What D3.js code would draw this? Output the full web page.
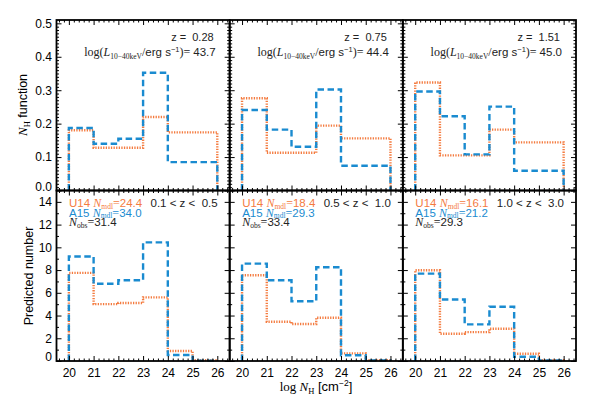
<!DOCTYPE html>
<html><head><meta charset="utf-8">
<script src="https://cdn.jsdelivr.net/npm/d3@7"></script>
<style>body{margin:0;background:#fff}svg{display:block}</style>
</head><body>
<script>
// ---- data ----
const edgesTop = [20, 21, 22, 23, 24, 26];
const edgesBot = [20, 21, 22, 23, 24, 25, 26];
const topU14 = [[0.180, 0.128, 0.128, 0.220, 0.174], [0.276, 0.113, 0.113, 0.194, 0.156], [0.323, 0.105, 0.105, 0.182, 0.144]];
const topA15 = [[0.187, 0.140, 0.155, 0.352, 0.085], [0.241, 0.182, 0.131, 0.302, 0.074], [0.296, 0.222, 0.108, 0.251, 0.059]];
const botU14 = [[7.75, 5.0, 5.1, 5.6, 0.88, 0.08], [7.54, 3.45, 3.25, 3.8, 0.67, 0.08], [7.98, 2.4, 2.54, 2.84, 0.64, 0.08]];
const botA15 = [[9.2, 6.8, 7.1, 10.44, 0.53, 0.03], [8.57, 7.1, 5.26, 8.25, 0.5, 0.05], [7.69, 5.41, 3.22, 4.77, 0.38, 0.04]];
const zLabels = ["0.28", "0.75", "1.51"];
const logL = ["43.7", "44.4", "45.0"];
const zRanges = ["0.1 < z <  0.5", "0.5 < z <  1.0", "1.0 < z <  3.0"];
const nU14 = ["24.4", "18.4", "16.1"];
const nA15 = ["34.0", "29.3", "21.2"];
const nObs = ["31.4", "33.4", "29.3"];
const xTicks = [20, 21, 22, 23, 24, 25, 26];
const yTopTicks = [0, 0.1, 0.2, 0.3, 0.4, 0.5];
const yBotTicks = [0, 2, 4, 6, 8, 10, 12, 14];

// ---- layout ----
const W = 598, H = 398;
const L = 56.5, R = 576, T = 20, M = 190.5, B = 361;
const pw = (R - L) / 3;
const ORANGE = "#f47b3f", BLUE = "#1a8bd0";
const SANS = "'Liberation Sans', Arial, sans-serif";
const SERIF = "'Liberation Serif', 'DejaVu Serif', serif";

const svg = d3.select("body").append("svg").attr("width", W).attr("height", H)
  .style("font-family", SANS);

const yTop = d3.scaleLinear([0, 0.51], [M, T]);
const yBot = d3.scaleLinear([0, 15], [B, M]);

function stepPoints(edges, vals) {
  const pts = [[edges[0], 0]];
  vals.forEach((v, i) => { pts.push([edges[i], v]); pts.push([edges[i + 1], v]); });
  pts.push([edges[edges.length - 1], 0]);
  return pts;
}

function axes(g, x, y, yt, yMinor, showX, showY, y0, y1, x0, x1) {
  const xMinor = d3.range(19.6, 26.5, 0.2).filter(v => Math.abs(v - Math.round(v)) > 1e-6);
  const style = sel => { sel.select(".domain").remove(); sel.selectAll("line").attr("stroke", "#000").attr("stroke-width", 1); };
  const gb = g.append("g").attr("transform", `translate(0,${y0})`)
    .call(d3.axisBottom(x).tickValues(xTicks).tickSize(-5).tickPadding(7.5).tickFormat(showX ? d3.format("d") : () => "")).call(style);
  gb.selectAll("text").attr("font-size", 12).attr("font-family", SANS).attr("fill", "#000");
  g.append("g").attr("transform", `translate(0,${y0})`).call(d3.axisBottom(x).tickValues(xMinor).tickSize(-2.5).tickFormat(() => "")).call(style);
  g.append("g").attr("transform", `translate(0,${y1})`).call(d3.axisTop(x).tickValues(xTicks).tickSize(-5).tickFormat(() => "")).call(style);
  g.append("g").attr("transform", `translate(0,${y1})`).call(d3.axisTop(x).tickValues(xMinor).tickSize(-2.5).tickFormat(() => "")).call(style);
  const gl = g.append("g").attr("transform", `translate(${x0},0)`)
    .call(d3.axisLeft(y).tickValues(yt).tickSize(-5).tickPadding(4.5).tickFormat(showY ? (yt[1] < 1 ? d3.format(".1f") : d3.format("d")) : () => "")).call(style);
  gl.selectAll("text").attr("font-size", 12).attr("font-family", SANS).attr("fill", "#000");
  gl.selectAll(".tick").filter(d => d === 0).select("text").attr("y", -4);
  g.append("g").attr("transform", `translate(${x0},0)`).call(d3.axisLeft(y).tickValues(yMinor).tickSize(-2.5).tickFormat(() => "")).call(style);
  g.append("g").attr("transform", `translate(${x1},0)`).call(d3.axisRight(y).tickValues(yt).tickSize(-5).tickFormat(() => "")).call(style);
  g.append("g").attr("transform", `translate(${x1},0)`).call(d3.axisRight(y).tickValues(yMinor).tickSize(-2.5).tickFormat(() => "")).call(style);
}

const yTopMinor = d3.range(0.01, 0.51, 0.01).filter(v => Math.abs(v * 10 - Math.round(v * 10)) > 1e-6);
const yBotMinor = d3.range(1, 15, 2);

function subLine(g, x, y, color, prefix, sub, value) {
  const t = g.append("text").attr("x", x).attr("y", y).attr("font-size", 11.5).attr("fill", color);
  if (prefix) t.append("tspan").text(prefix);
  t.append("tspan").text("N").attr("font-family", SERIF).attr("font-style", "italic").attr("font-size", 12);
  t.append("tspan").text(sub).attr("font-family", SERIF).attr("font-size", 7.5).attr("dy", 1.5);
  t.append("tspan").text("=").attr("font-family", SERIF).attr("font-size", 12).attr("dy", -1.5);
  t.append("tspan").text(value);
}

for (let i = 0; i < 3; i++) {
  const x0 = L + i * pw, x1 = L + (i + 1) * pw;
  const x = d3.scaleLinear([19.5, 26.5], [x0, x1]);
  const g = svg.append("g");

  const lineT = d3.line().x(d => x(d[0])).y(d => yTop(d[1]));
  g.append("path").attr("d", lineT(stepPoints(edgesTop, topU14[i]))).attr("fill", "none")
    .attr("stroke", ORANGE).attr("stroke-width", 2.4).attr("stroke-dasharray", "1.3,1.3");
  g.append("path").attr("d", lineT(stepPoints(edgesTop, topA15[i]))).attr("fill", "none")
    .attr("stroke", BLUE).attr("stroke-width", 2.4).attr("stroke-dasharray", "6.5,3.5");

  const lineB = d3.line().x(d => x(d[0])).y(d => yBot(d[1]));
  g.append("path").attr("d", lineB(stepPoints(edgesBot, botU14[i]))).attr("fill", "none")
    .attr("stroke", ORANGE).attr("stroke-width", 2.4).attr("stroke-dasharray", "1.3,1.3");
  g.append("path").attr("d", lineB(stepPoints(edgesBot, botA15[i]))).attr("fill", "none")
    .attr("stroke", BLUE).attr("stroke-width", 2.4).attr("stroke-dasharray", "6.5,3.5");

  axes(g.append("g"), x, yTop, yTopTicks, yTopMinor, false, i === 0, M, T, x0, x1);
  axes(g.append("g"), x, yBot, yBotTicks, yBotMinor, true, i === 0, B, M, x0, x1);

  g.append("rect").attr("x", x0).attr("y", T).attr("width", pw).attr("height", M - T)
    .attr("fill", "none").attr("stroke", "#000").attr("stroke-width", 1.8);
  g.append("rect").attr("x", x0).attr("y", M).attr("width", pw).attr("height", B - M)
    .attr("fill", "none").attr("stroke", "#000").attr("stroke-width", 1.8);

  // top annotations
  g.append("text").attr("x", x1 - 16).attr("y", 40.5).attr("text-anchor", "end")
    .attr("font-size", 11).attr("fill", "#222").style("white-space", "pre").text("z =  " + zLabels[i]);
  const tl = g.append("text").attr("x", x1 - 14).attr("y", 56).attr("text-anchor", "end")
    .attr("font-size", 11.5).attr("fill", "#222");
  tl.append("tspan").text("log(").attr("font-family", SERIF).attr("font-size", 12);
  tl.append("tspan").text("L").attr("font-family", SERIF).attr("font-style", "italic").attr("font-size", 12);
  tl.append("tspan").text("10−40keV").attr("font-family", SERIF).attr("font-size", 7.5).attr("dy", 2.5);
  tl.append("tspan").text("/").attr("font-family", SERIF).attr("font-size", 12).attr("dy", -2.5);
  tl.append("tspan").text("erg s");
  tl.append("tspan").text("−1").attr("font-size", 7.5).attr("dy", -4);
  tl.append("tspan").text(")").attr("font-family", SERIF).attr("font-size", 12).attr("dy", 4);
  tl.append("tspan").text("= ").attr("font-family", SERIF).attr("font-size", 12);
  tl.append("tspan").text(logL[i]);

  // bottom annotations
  const bx = x0 + 12.5;
  subLine(g, bx, 207, ORANGE, "U14 ", "mdl", nU14[i]);
  subLine(g, bx, 216.5, BLUE, "A15 ", "mdl", nA15[i]);
  subLine(g, bx, 226, "#222", "", "obs", nObs[i]);
  g.append("text").attr("x", x1 - 12).attr("y", 207).attr("text-anchor", "end")
    .attr("font-size", 11.5).attr("fill", "#222").style("white-space", "pre").text(zRanges[i]);
}

// axis titles
const xt = svg.append("text").attr("x", 316).attr("y", 391).attr("text-anchor", "middle").attr("font-size", 13).attr("fill", "#000");
xt.append("tspan").text("log ").attr("font-family", SERIF);
xt.append("tspan").text("N").attr("font-family", SERIF).attr("font-style", "italic");
xt.append("tspan").text("H").attr("font-family", SERIF).attr("font-size", 8.5).attr("dy", 3);
xt.append("tspan").text(" [cm").attr("dy", -3);
xt.append("tspan").text("−2").attr("font-size", 8.5).attr("dy", -5);
xt.append("tspan").text("]").attr("dy", 5);

const yt1 = svg.append("text").attr("transform", "translate(27,105) rotate(-90)").attr("text-anchor", "middle").attr("font-size", 12.5).attr("fill", "#000");
yt1.append("tspan").text("N").attr("font-family", SERIF).attr("font-style", "italic").attr("font-size", 13);
yt1.append("tspan").text("H").attr("font-family", SERIF).attr("font-size", 8.5).attr("dy", 3);
yt1.append("tspan").text(" function").attr("dy", -3);

svg.append("text").attr("transform", "translate(32.5,276) rotate(-90)").attr("text-anchor", "middle")
  .attr("font-size", 12.5).attr("fill", "#000").text("Predicted number");
</script>
</body></html>
